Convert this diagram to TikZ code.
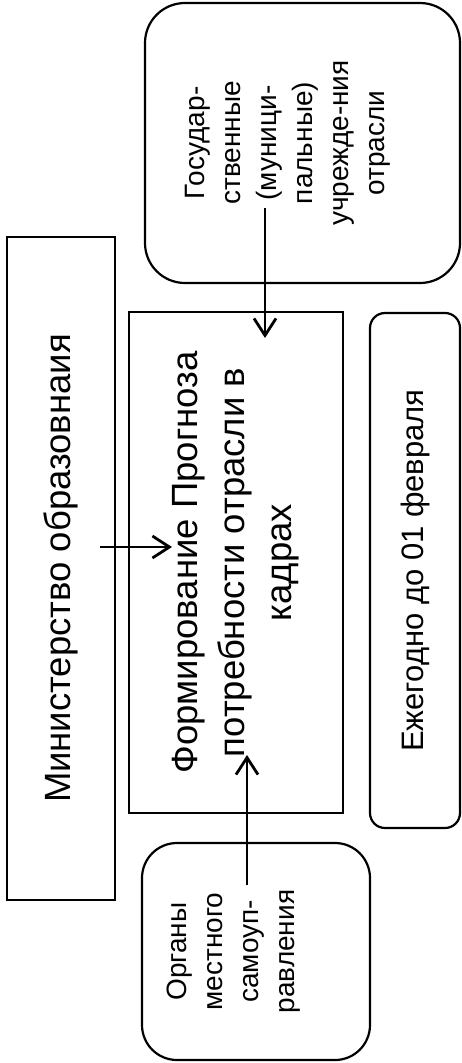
\documentclass[tikz,border=0pt]{standalone}
\usepackage{fontspec}
\setmainfont{Liberation Sans}
\usetikzlibrary{arrows.meta, calc}

\begin{document}
\begin{tikzpicture}[x=1pt, y=-1pt,
    >={Straight Barb[length=17pt, width=22pt]},
    box/.style={draw, line width=2.2pt, rotate=90, align=center, inner sep=0pt},
    txt/.style={rotate=90, align=center, inner sep=0pt},
    flow/.style={->, line width=2.8pt}]
  \useasboundingbox (0,0) rectangle (462,1063);

  % boxes
  \node[box, minimum width=663pt, minimum height=108pt,
        font=\fontsize{36.5}{46}\selectfont] (min) at (61,568.5)
    {Министерство образовнаия};
  \node[box, minimum width=501pt, minimum height=214pt,
        font=\fontsize{36.5}{47}\selectfont] (form) at (236,562.5)
    {Формирование Прогноза\\потребности отрасли в\\кадрах};
  \node[box, rounded corners=15pt, minimum width=515pt, minimum height=90pt,
        font=\fontsize{31}{38}\selectfont] (date) at (415,570.5)
    {Ежегодно до 01 февраля};
  \node[box, rounded corners=40pt, minimum width=280pt, minimum height=315pt]
    (gov) at (302.5,143) {};
  \node[txt, font=\fontsize{28}{36}\selectfont] (govtext)
    at ($(gov.center)+(-15,0)$)
    {Государ-\\ственные\\(муници-\\пальные)\\учрежде-ния\\отрасли};
  \node[box, rounded corners=35pt, minimum width=217pt, minimum height=228pt]
    (loc) at (256,951.5) {};
  \node[txt, font=\fontsize{28}{36}\selectfont] (loctext)
    at ($(loc.center)+(-22,0)$)
    {Органы\\местного\\самоуп-\\равления};

  % arrows
  \draw[flow] ($(gov.center)+(-37.5,65)$) -- ($(form.center)+(29,-224.5)$);
  \draw[flow] ($(min.center)+(39,-21.5)$) -- ($(form.center)+(-64,-15.5)$);
  \draw[flow] ($(loc.center)+(-9,-66.5)$) -- ($(form.center)+(11,192.5)$);
\end{tikzpicture}
\end{document}
